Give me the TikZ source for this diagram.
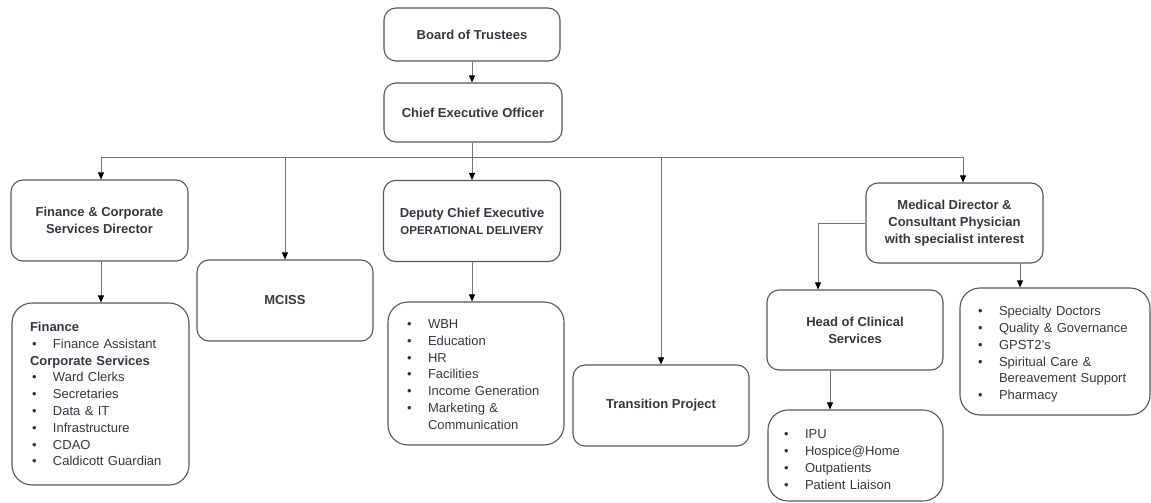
\documentclass[tikz,border=0pt]{standalone}
\usepackage{fontspec}
\setmainfont{Liberation Sans}
\usetikzlibrary{arrows.meta}
\definecolor{txt}{RGB}{55,55,66}
\definecolor{bord}{RGB}{88,88,88}
\definecolor{conn}{RGB}{115,115,115}
\newcommand\itm[1]{\makebox[21pt][l]{\textbullet}#1}
\newcommand\pushdown[1]{\rule{0pt}{\dimexpr\fontcharht\font`H+#1\relax}}
\begin{document}
\begin{tikzpicture}[x=1pt,y=-1pt,
  box/.style={draw=bord,line width=1.1pt,rounded corners=12pt,text=txt,
    font=\fontsize{13}{16.8}\selectfont\bfseries,align=center,inner sep=0pt},
  lst/.style={draw=bord,line width=1.1pt,rounded corners=20pt,text=txt,
    font=\fontsize{13}{16.8}\selectfont,align=left,inner ysep=2pt},
  conline/.style={draw=conn,line width=0.8pt},
  arr/.style={conline,-{Triangle[length=7pt,width=6pt,fill=black,color=black]}}]
\useasboundingbox (0,0) rectangle (1151,503);

\node[box,minimum width=176,minimum height=53] (bot) at (472,34.5) {Board of Trustees};
\node[box,minimum width=178,minimum height=59] (ceo) at (473,112.5) {Chief Executive Officer};
\node[box,minimum width=177,minimum height=81] (fin) at (99.5,220.5) {Finance \& Corporate\\Services Director};
\node[box,minimum width=176,minimum height=81] (mciss) at (285,300.5) {MCISS};
\node[box,minimum width=177,minimum height=81] (dep) at (472,221) {Deputy Chief Executive\\{\fontsize{11.5}{14}\selectfont OPERATIONAL DELIVERY}};
\node[box,minimum width=176,minimum height=81] (trans) at (661,405.5) {Transition Project};
\node[box,minimum width=177,minimum height=80] (med) at (954.5,223) {Medical Director \&\\Consultant Physician\\with specialist interest};
\node[box,minimum width=176,minimum height=80] (hcs) at (855,330) {Head of Clinical\\Services};

\node[lst,inner xsep=20pt,text width=137pt,minimum height=182] (finl) at (100.5,394)
 {\hspace*{-2pt}\textbf{Finance}\\
  \itm{Finance Assistant}\\
  \hspace*{-2pt}\textbf{Corporate Services}\\
  \itm{Ward Clerks}\\
  \itm{Secretaries}\\
  \itm{Data \& IT}\\
  \itm{Infrastructure}\\
  \itm{CDAO}\\
  \itm{Caldicott Guardian}};
\node[lst,inner xsep=19pt,text width=138pt,minimum height=143] (depl) at (476,373.5)
 {\pushdown{2pt}\itm{WBH}\\
  \itm{Education}\\
  \itm{HR}\\
  \itm{Facilities}\\
  \itm{Income Generation}\\
  \itm{Marketing \&}\\
  \hspace*{21pt}Communication};
\node[lst,inner xsep=18pt,text width=154pt,minimum height=127] (spec) at (1055,351.5)
 {\pushdown{6pt}\itm{Specialty Doctors}\\
  \itm{Quality \& Governance}\\
  \itm{GPST2's}\\
  \itm{Spiritual Care \&}\\
  \hspace*{21pt}Bereavement Support\\
  \itm{Pharmacy}};
\node[lst,inner xsep=16pt,text width=143pt,minimum height=91] (ipu) at (855.5,455.5)
 {\pushdown{8pt}\itm{IPU}\\
  \itm{Hospice@Home}\\
  \itm{Outpatients}\\
  \itm{Patient Liaison}};

\coordinate (bus) at (472,157);
\coordinate (bL) at (101,157);
\coordinate (bR) at (963,157);
\coordinate (xhc) at (818,0);
\coordinate (xsp) at (1020,0);
\coordinate (xipu) at (830,0);

\draw[arr] (bot) -- (bot |- ceo.north);
\draw[conline] (ceo.south -| bus) -- (bus);
\draw[conline] (bL) -- (bR);
\draw[arr] (bL) -- (bL |- fin.north);
\draw[arr] (mciss.north |- bus) -- (mciss.north);
\draw[arr] (bus) -- (bus |- dep.north);
\draw[arr] (trans.north |- bus) -- (trans.north);
\draw[arr] (bR) -- (bR |- med.north);
\draw[arr] (bL |- fin.south) -- (bL |- finl.north);
\draw[arr] (bus |- dep.south) -- (bus |- depl.north);
\draw[arr] (med.west) -| (xhc |- hcs.north);
\draw[arr] (xsp |- med.south) -- (xsp |- spec.north);
\draw[arr] (xipu |- hcs.south) -- (xipu |- ipu.north);
\end{tikzpicture}
\end{document}
